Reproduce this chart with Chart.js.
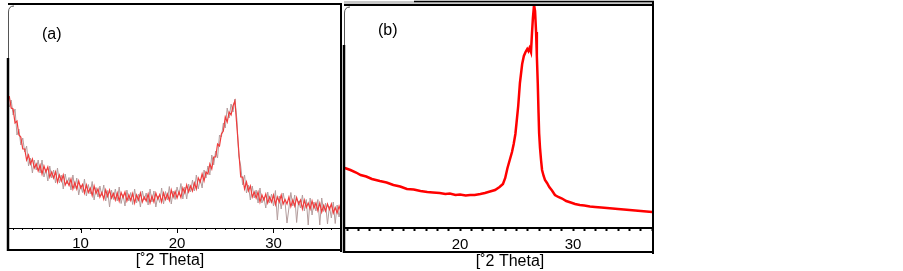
<!DOCTYPE html>
<html><head><meta charset="utf-8">
<script src="https://cdn.jsdelivr.net/npm/chart.js@4"></script>
<style>
html,body{margin:0;padding:0;background:#fff;width:903px;height:271px;overflow:hidden}
#wa{position:absolute;left:0;top:0;width:346px;height:271px}
#wb{position:absolute;left:340px;top:0;width:330px;height:271px}
</style></head><body>
<div id="wa"><canvas id="ca"></canvas></div>
<div id="wb"><canvas id="cb"></canvas></div>
<script>
// ---- data (2 theta in degrees, intensity in arbitrary units) ----
const angleA = [2.6,2.8,3.0,3.2,3.4,3.6,3.8,4.0,4.2,4.4,4.6,4.8,5.0,5.2,5.4,5.6,5.8,6.0,6.2,6.4,6.6,6.8,7.0,7.2,7.4,7.6,7.8,8.0,8.2,8.4,8.6,8.8,9.0,9.2,9.4,9.6,9.8,10.0,10.2,10.4,10.6,10.8,11.0,11.2,11.4,11.6,11.8,12.0,12.2,12.4,12.6,12.8,13.0,13.2,13.4,13.6,13.8,14.0,14.2,14.4,14.6,14.8,15.0,15.2,15.4,15.6,15.8,16.0,16.2,16.4,16.6,16.8,17.0,17.2,17.4,17.6,17.8,18.0,18.2,18.4,18.6,18.8,19.0,19.2,19.4,19.6,19.8,20.0,20.2,20.4,20.6,20.8,21.0,21.2,21.4,21.6,21.8,22.0,22.2,22.4,22.6,22.8,23.0,23.2,23.4,23.6,23.8,24.0,24.2,24.4,24.6,24.8,25.0,25.2,25.4,25.6,25.8,26.0,26.2,26.4,26.6,26.8,27.0,27.2,27.4,27.6,27.8,28.0,28.2,28.4,28.6,28.8,29.0,29.2,29.4,29.6,29.8,30.0,30.2,30.4,30.6,30.8,31.0,31.2,31.4,31.6,31.8,32.0,32.2,32.4,32.6,32.8,33.0,33.2,33.4,33.6,33.8,34.0,34.2,34.4,34.6,34.8,35.0,35.2,35.4,35.6,35.8,36.0,36.2,36.4,36.6,36.8,37.0];
const smoothA = [132,120,119,105,107,93,91,79,79,68,73,64,69,60,64,57,63,54,62,56,61,51,56,50,56,46,53,47,53,43,47,42.5,49,39,45.5,39,47,40,43.5,35,43,35.5,40,32.5,42,34.5,39,31,35.5,29,38,31.5,38,30,34.5,28,35,27,35.5,30.5,36,27,33,27.5,34.5,25,33,28,35,26,31,27,34,25,32,26,35,29,33.5,26,35,28.5,34,27.5,38,31,36.5,30,36,30.5,40,35,43,36,42,37,45,39,50,46,54,47,56,54,64,59,71,71,84,82,94,97,111,106,116,113,122,127,102,77,51,51,39,46,37,42,31,36,30,36,26,33,28,34,25,31,26,33,23.5,31,26,33,24,28.5,24,31,21.5,28,22,30.5,24,28,19,28,20.5,25,19,27,20,25,17.5,25,16,22.5,17,24,18.5,24,15,20.5,15,22,16];
const rawA = [121,128,113,119,93,99,83,90,76,82,62,70,55,68,58,68,55,68,51,59,47,62,50,58,45,60,45,53,39,54,44,50.5,38,53,39.5,50,33,43,35.5,49,32,43.5,34,46.5,28,40.5,31,42,32.5,43,27,37.5,21,38,28.5,39,27,41,24.5,33.5,22,38,27,35.5,23.5,39,25,34,21,37,28,35,23,39,26,37,21,32,25.5,40,24,36.5,28,41.5,24,37,28.5,41,33,44.5,29,41,29,44,36,48,37,53,39,49,40,58,50,62,53,73,63,77,70,93,91,105,100,120,110,124,116,129,109,72,62,43,53,35,43,28,42,30,38,25,40,25,31,20,36,25,34,22,37.5,8,32,19,35,25.5,5,20,35.5,22,33,5.5,27,20,33,17,28.5,3,30,13,26,17,28.5,3,30,16.5,25,4,21.5,10,26,4.5,23,11,22];
const angleB = [9.8,10.3,10.8,11.2,11.7,12.2,12.9,13.5,14.1,14.7,15.3,15.9,16.5,17.1,17.6,18.2,18.7,19.1,19.6,20.0,20.5,20.9,21.3,21.8,22.2,22.65,23.1,23.5,23.8,24.0,24.2,24.4,24.6,24.75,24.9,25.0,25.15,25.3,25.5,25.65,25.8,25.95,26.05,26.15,26.28,26.37,26.45,26.55,26.64,26.73,26.8,26.88,26.95,27.0,27.08,27.17,27.26,27.4,27.52,27.7,27.9,28.14,28.4,28.7,29.03,29.4,29.8,30.18,30.6,31.0,31.5,31.95,32.5,33.0,33.5,33.98,34.5,35.0,35.5,36.0,36.5,37.0];
const intensityB = [60,58,55.5,53,51.5,49,47,45.5,43,41.5,39,38.5,37,36,35.5,35,34,34.5,33,33.5,32.5,33,33,34,35,36.5,38,41,44,50,60,68,76,84,94,105,122,145,164,172,176,179,177,180,176,195,210,223,217,196,172,145,115,95,80,68,58,52,48,45,41,37.5,33,31,29.5,27,25.5,24,23,22.5,21.5,21,20.5,20,19.5,19,18.5,18,17.5,17,16.5,16];
const ticksA = [10, 20, 30];
const ticksB = [20, 30];
const axisTitle = '[˚2 Theta]';
const panelLabels = ['(a)', '(b)'];

const FONT = '"Liberation Sans", Arial, sans-serif';

function panelPlugin(cfg) {
  return {
    id: 'panel' + cfg.name,
    afterDraw(chart) {
      const ctx = chart.ctx;
      const a = chart.chartArea;
      const xs = chart.scales.x;
      ctx.save();
      ctx.strokeStyle = '#000';
      ctx.lineCap = 'butt';
      if (cfg.doubleTop) {
        ctx.fillStyle = '#c8c8c8';
        ctx.fillRect(a.left, 1, a.right - a.left + 1, 5);
        ctx.lineWidth = 1.5;
        ctx.beginPath(); ctx.moveTo(a.left + 70, 1.5); ctx.lineTo(a.right + 1, 1.5); ctx.stroke();
        ctx.lineWidth = 2;
        ctx.beginPath(); ctx.moveTo(a.left, a.top); ctx.lineTo(a.right + 1, a.top); ctx.stroke();
      } else {
        ctx.lineWidth = 2;
        ctx.beginPath(); ctx.moveTo(a.left, a.top); ctx.lineTo(a.right + 1, a.top); ctx.stroke();
      }
      ctx.lineWidth = 2;
      ctx.beginPath(); ctx.moveTo(a.right, a.top - (cfg.doubleTop ? 4 : 1)); ctx.lineTo(a.right, cfg.boxBottom + 2); ctx.stroke();
      ctx.beginPath(); ctx.moveTo(a.left - 1, cfg.boxBottom); ctx.lineTo(a.right + 1, cfg.boxBottom); ctx.stroke();
      ctx.lineWidth = 2.5;
      ctx.beginPath(); ctx.moveTo(a.left, cfg.boxTop); ctx.lineTo(a.left, cfg.boxBottom + 1); ctx.stroke();
      ctx.lineWidth = 1;
      ctx.strokeStyle = '#555';
      ctx.beginPath();
      ctx.moveTo(a.left + 0.5, cfg.boxTop);
      ctx.lineTo(a.left + 0.5, a.top + 8);
      ctx.quadraticCurveTo(a.left + 0.5, a.top + 2, a.left + 6, a.top + 2);
      ctx.stroke();
      if (cfg.majorTicks) {
        ctx.strokeStyle = '#000';
        ctx.lineWidth = 1;
        cfg.majorTicks.forEach(v => {
          const px = Math.round(xs.getPixelForValue(v)) + 0.5;
          ctx.beginPath(); ctx.moveTo(px, a.bottom); ctx.lineTo(px, a.bottom + 5); ctx.stroke();
        });
      }
      ctx.fillStyle = '#000';
      ctx.font = '16px ' + FONT;
      ctx.textBaseline = 'middle';
      ctx.textAlign = 'left';
      ctx.fillText(cfg.label, cfg.labelX, cfg.labelY);
      ctx.textAlign = 'center';
      ctx.fillText(axisTitle, cfg.titleX, cfg.titleY);
      ctx.restore();
    }
  };
}

function xScale(min, max, labels, borderW, tickW, tickLen) {
  return {
    type: 'linear', min: min, max: max, position: 'bottom',
    afterFit: (s) => { s.height = 43; },
    border: { display: true, color: '#000', width: borderW },
    grid: { drawOnChartArea: false, drawTicks: true, tickLength: tickLen, color: '#000', tickWidth: tickW, tickColor: '#000' },
    ticks: {
      stepSize: 1, autoSkip: false, includeBounds: false, maxRotation: 0, minRotation: 0,
      padding: 5, color: '#000', font: { family: FONT, size: 15 },
      callback: (v) => labels.includes(v) ? String(v) : ''
    },
    title: { display: false }
  };
}

const common = {
  responsive: false, animation: false, maintainAspectRatio: false,
  plugins: { legend: { display: false }, tooltip: { enabled: false } },
  elements: { point: { radius: 0 }, line: { tension: 0 } },
  events: []
};

function sizeCanvas(id, w, h) { const c = document.getElementById(id); c.width = w; c.height = h; c.style.width = w + 'px'; c.style.height = h + 'px'; return c; }

new Chart(sizeCanvas('ca', 346, 271), {
  type: 'line',
  data: {
    datasets: [
      { data: angleA.map((x, i) => ({ x: x, y: smoothA[i] })), borderColor: '#f03c3c', borderWidth: 1.2, order: 1 },
      { data: angleA.map((x, i) => ({ x: x, y: rawA[i] })), borderColor: '#b39c9c', borderWidth: 1, order: 2 }
    ]
  },
  options: Object.assign({}, common, {
    layout: { padding: { left: 8, right: 3, top: 4, bottom: 0 } },
    scales: {
      x: xScale(2.47, 37.0, ticksA, 1, 1, 2),
      y: { display: false, min: 0, max: 224 }
    }
  }),
  plugins: [panelPlugin({ name: 'A', boxBottom: 250, boxTop: 58, majorTicks: ticksA, label: panelLabels[0], labelX: 42, labelY: 35, titleX: 170, titleY: 261 })]
});

new Chart(sizeCanvas('cb', 330, 271), {
  type: 'line',
  data: {
    datasets: [
      { data: angleB.map((x, i) => ({ x: x, y: intensityB[i] })), borderColor: '#ff0000', borderWidth: 2.5 }
    ]
  },
  options: Object.assign({}, common, {
    layout: { padding: { left: 4, right: 17, top: 5, bottom: 0 } },
    scales: {
      x: xScale(9.73, 37.08, ticksB, 2, 2, 3),
      y: { display: false, min: 0, max: 223 }
    }
  }),
  plugins: [panelPlugin({ name: 'B', boxBottom: 252, boxTop: 45, doubleTop: true, label: panelLabels[1], labelX: 38, labelY: 31, titleX: 170, titleY: 262 })]
});
</script>
</body></html>
